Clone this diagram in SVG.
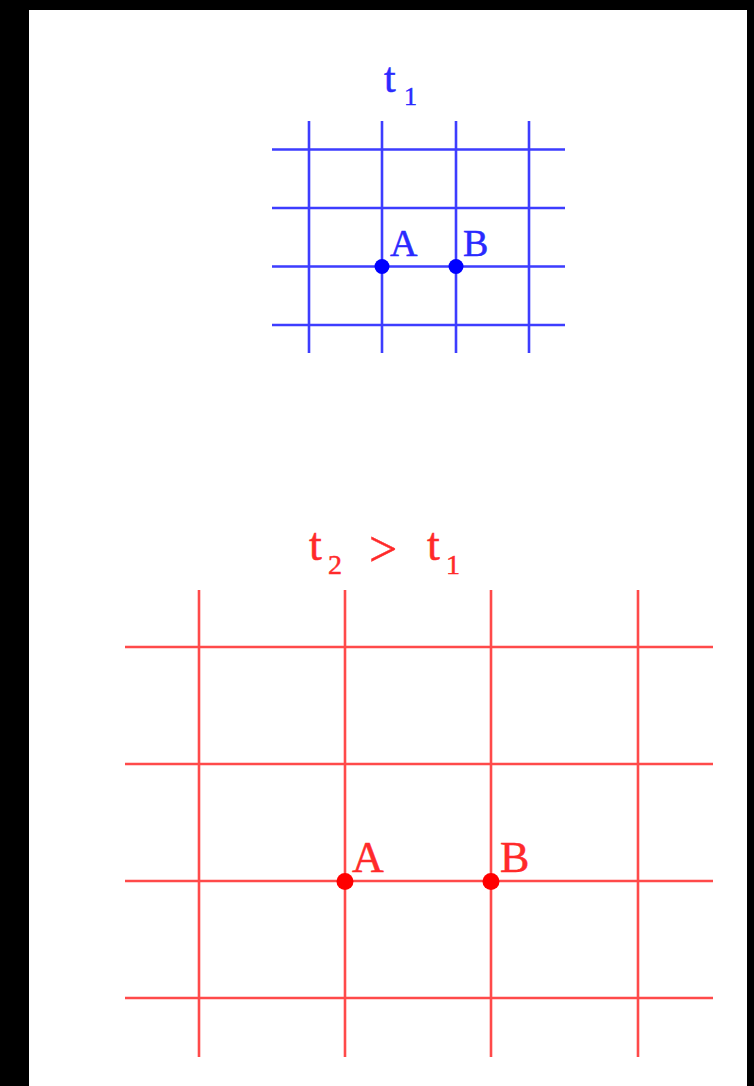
<svg xmlns="http://www.w3.org/2000/svg" width="754" height="1086" viewBox="0 0 754 1086">
<style>
.bl{stroke:#3d3dff;stroke-width:2.6;fill:none}
.rl{stroke:#ff4a4a;stroke-width:2.6;fill:none}
.bt{fill:#2a2aff;stroke:#2a2aff;stroke-width:0.5;font-family:"Liberation Serif",serif}
.rt{fill:#ff2a2a;stroke:#ff2a2a;stroke-width:0.5;font-family:"Liberation Serif",serif}
</style>
<rect x="0" y="0" width="754" height="1086" fill="#000"/>
<rect x="29" y="10" width="718" height="1076" fill="#fff"/>
<g id="blue-grid">
<path class="bl" d="M309,121V353M382,121V353M456,121V353M529,121V353M272,149.5H565M272,208H565M272,266.5H565M272,325H565"/>
<circle cx="382" cy="266.5" r="7.5" fill="#0000ff"/>
<circle cx="456" cy="266.5" r="7.5" fill="#0000ff"/>
<text class="bt" x="390" y="256" font-size="38">A</text>
<text class="bt" x="463" y="256" font-size="38">B</text>
<text class="bt" x="384" y="92" font-size="42">t</text>
<text class="bt" x="404" y="105" font-size="26">1</text>
</g>
<g id="red-grid">
<path class="rl" d="M199,590V1057M345,590V1057M491,590V1057M638,590V1057M125,647H713M125,764H713M125,881H713M125,998H713"/>
<circle cx="345" cy="881.5" r="8.5" fill="#ff0000"/>
<circle cx="491" cy="881.5" r="8.5" fill="#ff0000"/>
<text class="rt" x="352" y="872" font-size="44">A</text>
<text class="rt" x="500" y="872" font-size="44">B</text>
<text class="rt" x="309" y="560" font-size="46">t</text>
<text class="rt" x="328" y="574" font-size="28">2</text>
<text class="rt" x="369" y="566" font-size="50">&gt;</text>
<text class="rt" x="427" y="560" font-size="46">t</text>
<text class="rt" x="446" y="574" font-size="28">1</text>
</g>
</svg>
